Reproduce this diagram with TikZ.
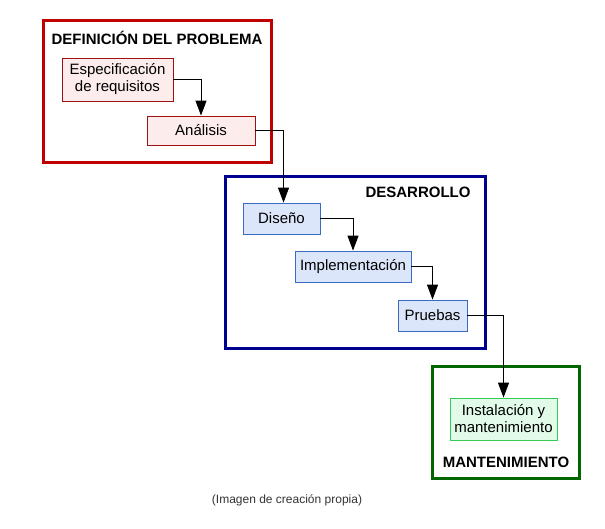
\documentclass[tikz,border=0pt]{standalone}
\usepackage{fontspec}
\setmainfont{Liberation Sans}
\usetikzlibrary{arrows.meta}
\definecolor{redframe}{HTML}{C00000}
\definecolor{pinkfill}{HTML}{FCECEC}
\definecolor{pinkedge}{HTML}{A01010}
\definecolor{blueframe}{HTML}{000090}
\definecolor{bluefill}{HTML}{DCE6FA}
\definecolor{blueedge}{HTML}{3A6BC0}
\definecolor{greenframe}{HTML}{006600}
\definecolor{greenfill}{HTML}{E2FBE8}
\definecolor{greenedge}{HTML}{33CC55}
\tikzset{
  frame/.style={line width=3pt},
  taskfont/.style={font=\fontsize{15}{17}\selectfont},
  redtask/.style={draw=pinkedge, fill=pinkfill, line width=0.8pt, align=center, taskfont, inner sep=0pt},
  bluetask/.style={draw=blueedge, fill=bluefill, line width=0.8pt, align=center, taskfont, inner sep=0pt},
  greentask/.style={draw=greenedge, fill=greenfill, line width=0.8pt, align=center, taskfont, inner sep=0pt},
  ttl/.style={font=\bfseries\fontsize{15}{17}\selectfont, inner sep=0pt},
  flow/.style={line width=0.9pt, -{Triangle[length=15pt,width=11pt]}}
}
\begin{document}
\begin{tikzpicture}[x=1pt,y=-1pt]
\useasboundingbox (0,0) rectangle (605,529);
% frames
\draw[frame, draw=redframe] (43,21) rectangle (271,163);
\draw[frame, draw=blueframe] (225,177) rectangle (485,348);
\draw[frame, draw=greenframe] (432,366) rectangle (579,478);
\node[ttl] (t1) at (157,38) {DEFINICIÓN DEL PROBLEMA};
\node[ttl] (t2) at (418,192) {DESARROLLO};
\node[ttl] (t3) at (506,462) {MANTENIMIENTO};
% tasks
\node[redtask, minimum width=111pt, minimum height=43pt] (esp) at (117.5,79.5) {Especificación\\de requisitos};
\node[redtask, minimum width=108pt, minimum height=29pt] (ana) at (201,130.5) {Análisis};
\node[bluetask, minimum width=77pt, minimum height=31pt] (dis) at (281.5,218.5) {Diseño};
\node[bluetask, minimum width=116pt, minimum height=31pt] (imp) at (353,266.5) {Implementación};
\node[bluetask, minimum width=69pt, minimum height=31pt] (pru) at (432.5,315.5) {Pruebas};
\node[greentask, minimum width=107pt, minimum height=42pt] (ins) at (503.5,419) {Instalación y\\mantenimiento};
% connectors
\draw[flow] (esp.east) -| (ana.north);
\draw[flow] (ana.east) -| ([xshift=2pt]dis.north);
\draw[flow] (dis.east) -| (imp.north);
\draw[flow] (imp.east) -| (pru.north);
\draw[flow] (pru.east) -| (ins.north);
\node[font=\fontsize{12}{14}\selectfont, text=black!80] (cap) at (287,500) {(Imagen de creación propia)};
\end{tikzpicture}
\end{document}
